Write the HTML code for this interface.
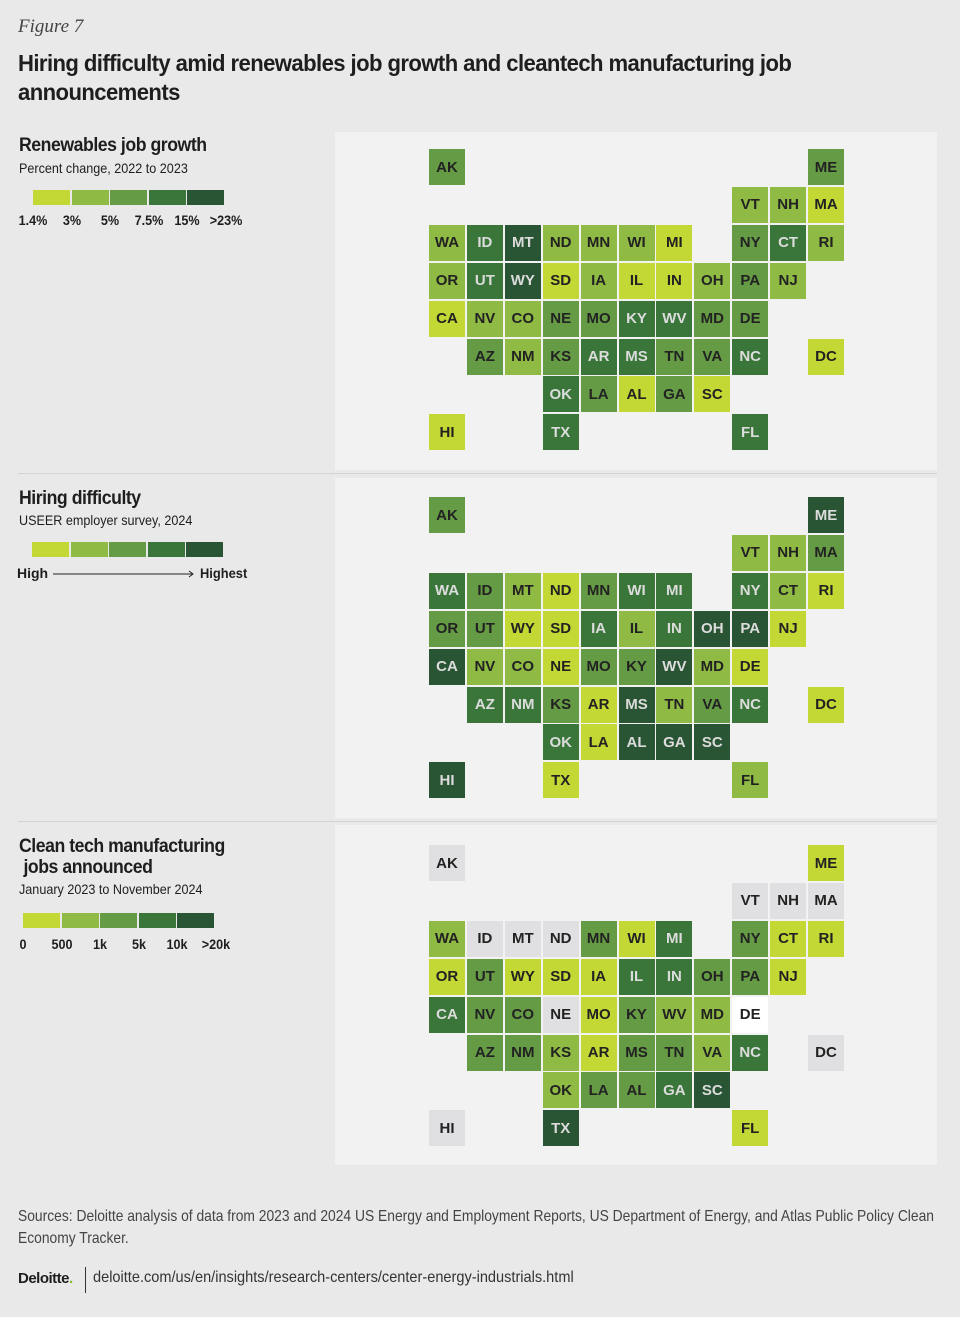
<!DOCTYPE html>
<html><head><meta charset="utf-8">
<style>
body{margin:0;background:#e8e9e8;width:960px;height:1317px;position:relative;overflow:hidden;font-family:"Liberation Sans",sans-serif;color:#1e1e1e}
.abs{position:absolute}
.panel{position:absolute;left:335px;width:602px;background:#f2f2f2}
.sep{position:absolute;left:18px;width:919px;height:1px;background:#d2d3d2}
.tile{position:absolute;width:36px;height:36px;display:flex;align-items:center;justify-content:center;font-weight:bold;font-size:15px;font-family:"Liberation Sans",sans-serif}
.h{font-weight:bold;font-size:19px;letter-spacing:-0.5px;transform:scaleX(0.93);transform-origin:left top;white-space:nowrap}
.s{font-size:14px;transform:scaleX(0.9);transform-origin:left top;white-space:nowrap}
.lab{font-weight:bold;font-size:14px}
.sw{position:absolute;height:15px;width:37px}
</style></head><body>
<div class="abs" style="left:18px;top:16px;font-family:'Liberation Serif',serif;font-style:italic;font-size:19px;color:#444">Figure 7</div>
<div class="abs" style="left:18px;top:49px;font-weight:bold;font-size:23px;line-height:29px;letter-spacing:-0.6px;width:950px;transform:scaleX(0.96);transform-origin:left top">Hiring difficulty amid renewables job growth and cleantech manufacturing job<br>announcements</div>

<div class="panel" style="top:132px;height:338px"></div>
<div class="sep" style="top:473px"></div>
<div class="panel" style="top:478px;height:340px"></div>
<div class="sep" style="top:821px"></div>
<div class="panel" style="top:825px;height:340px"></div>

<div class="abs h" style="left:19px;top:135px">Renewables job growth</div>
<div class="abs s" style="left:19px;top:160px">Percent change, 2022 to 2023</div>
<div class="abs h" style="left:19px;top:488px">Hiring difficulty</div>
<div class="abs s" style="left:19px;top:512px">USEER employer survey, 2024</div>
<div class="abs lab" style="left:17px;top:565px">High</div>
<svg class="abs" style="left:52px;top:568px" width="146" height="12"><line x1="1" y1="6" x2="141" y2="6" stroke="#222" stroke-width="1"/><path d="M137 3 L141 6 L137 9" fill="none" stroke="#222"/></svg>
<div class="abs lab" style="left:200px;top:565px;transform:scaleX(0.92);transform-origin:left top">Highest</div>
<div class="abs h" style="left:19px;top:836px;line-height:21px">Clean tech manufacturing<br>&nbsp;jobs announced</div>
<div class="abs s" style="left:19px;top:881px">January 2023 to November 2024</div>

<div class="abs" style="left:18px;top:1206px;font-size:16px;line-height:22px;color:#444;width:1040px;white-space:nowrap;transform:scaleX(0.865);transform-origin:left top">Sources: Deloitte analysis of data from 2023 and 2024 US Energy and Employment Reports, US Department of Energy, and Atlas Public Policy Clean<br>Economy Tracker.</div>
<div class="abs" style="left:18px;top:1270px;font-weight:bold;font-size:15px;font-family:'Liberation Sans',sans-serif;letter-spacing:-0.5px">Deloitte<span style="color:#86bc25">.</span></div>
<div class="abs" style="left:85px;top:1267px;width:1px;height:26px;background:#333"></div>
<div class="abs" style="left:93px;top:1269px;font-size:16px;color:#333;white-space:nowrap;transform:scaleX(0.91);transform-origin:left top">deloitte.com/us/en/insights/research-centers/center-energy-industrials.html</div>

<div id="root"></div>
<script>
const colors = ["#e0e0e2","#c4d835","#8fba44","#659b45","#3a7639","#2a5535","#ffffff"];
const states = ["AK","ME","VT","NH","MA","WA","ID","MT","ND","MN","WI","MI","NY","CT","RI","OR","UT","WY","SD","IA","IL","IN","OH","PA","NJ","CA","NV","CO","NE","MO","KY","WV","MD","DE","AZ","NM","KS","AR","MS","TN","VA","NC","DC","OK","LA","AL","GA","SC","HI","TX","FL"];
const cols = [0,10,8,9,10,0,1,2,3,4,5,6,8,9,10,0,1,2,3,4,5,6,7,8,9,0,1,2,3,4,5,6,7,8,1,2,3,4,5,6,7,8,10,3,4,5,6,7,0,3,8];
const rows = [0,0,1,1,1,2,2,2,2,2,2,2,2,2,2,3,3,3,3,3,3,3,3,3,3,4,4,4,4,4,4,4,4,4,5,5,5,5,5,5,5,5,5,6,6,6,6,6,7,7,7];
const renewables = [3,3,2,2,1,2,4,5,2,2,2,1,3,4,2,2,4,5,1,2,1,1,2,3,2,1,2,2,3,3,4,4,3,3,3,2,3,4,4,3,3,4,1,4,3,1,3,1,1,4,4];
const hiring = [3,5,2,2,3,4,3,2,1,3,4,4,4,2,1,3,3,1,1,4,2,4,5,5,1,5,2,2,1,3,3,5,2,1,4,4,3,1,5,2,3,4,1,4,1,5,5,5,5,1,2];
const cleantech = [0,1,0,0,0,2,0,0,0,3,1,4,3,1,1,1,3,1,1,1,4,4,3,3,1,4,3,3,0,1,3,2,2,6,3,3,2,1,3,3,2,4,0,2,3,3,4,5,0,5,1];
const legendLabels1 = ["1.4%","3%","5%","7.5%","15%",">23%"];
const legendLabels3 = ["0","500","1k","5k","10k",">20k"];
const maps = [{data:renewables,top:149,name:"renewables"},{data:hiring,top:497,name:"hiring"},{data:cleantech,top:845,name:"cleantech"}];
const root = document.getElementById('root');
const xPos = c => 429 + c*37.9;
const yPos = (top,r) => top + r*37.9;
maps.forEach(m=>{
  states.forEach((st,i)=>{
    const el=document.createElement('div');
    el.className='tile';
    
    
    const v=m.data[i];
    el.style.left=xPos(cols[i])+'px';
    el.style.top=yPos(m.top,rows[i])+'px';
    el.style.background=colors[v];
    el.style.color=(v===4||v===5)?'#dcdcdc':'#222';
    el.textContent=st;
    root.appendChild(el);
  });
});
function legend(x,y){
  for(let k=1;k<=5;k++){
    const s=document.createElement('div');
    s.className='sw';
    
    
    s.style.left=(x+(k-1)*38.5)+'px';s.style.top=y+'px';s.style.background=colors[k];
    root.appendChild(s);
  }
}
function labels(arr,x,y,step){
  arr.forEach((t,k)=>{
    const l=document.createElement('div');
    l.className='abs lab';
    
    
    l.style.left=(x+k*step)+'px';l.style.top=y+'px';l.style.transform='translateX(-50%) scaleX(0.9)';
    l.textContent=t;root.appendChild(l);
  });
}
legend(33,190);legend(32,542);legend(23,913);
labels(legendLabels1,33,212,38.5);
labels(legendLabels3,23,936,38.5);
</script>
</body></html>
